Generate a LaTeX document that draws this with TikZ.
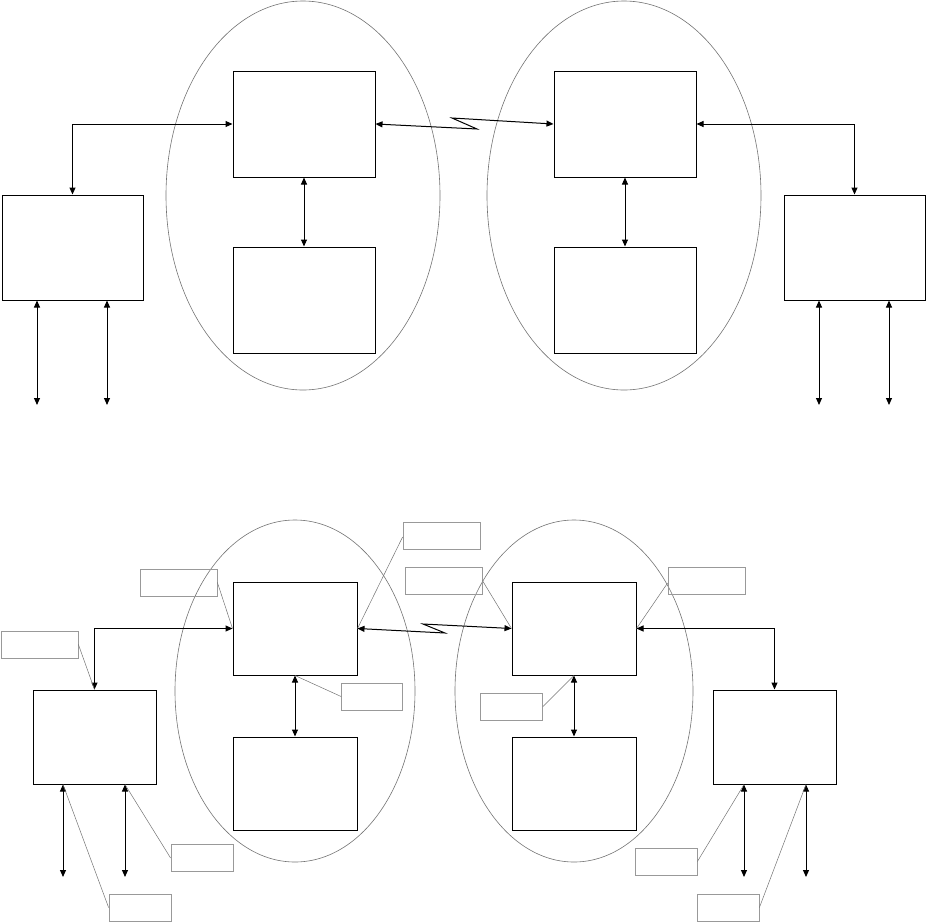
\documentclass[tikz,border=0pt]{standalone}
\usetikzlibrary{arrows.meta,shapes.geometric}
\begin{document}
\begin{tikzpicture}[x=1pt,y=-1pt,
  blk/.style={draw=black,line width=1pt,rectangle,inner sep=0pt,fill=none},
  oval/.style={draw=black!55,line width=0.6pt,ellipse,inner sep=0pt},
  callout/.style={draw=black!40,line width=0.8pt,rectangle,inner sep=0pt,minimum height=27pt},
  leader/.style={draw=black!55,line width=0.5pt},
  dbl/.style={line width=1pt,{Triangle[length=7pt,width=6pt]}-{Triangle[length=7pt,width=6pt]}},
  sgl/.style={line width=1pt,-{Triangle[length=7pt,width=6pt]}}]
\useasboundingbox (0,0) rectangle (927,922);

% ===== Top diagram =====
\node[oval,minimum width=274pt,minimum height=389pt] (E1) at (303,195.5) {};
\node[oval,minimum width=274pt,minimum height=389pt] (E2) at (624,195.5) {};
\node[blk,minimum width=142pt,minimum height=106pt] (A) at (304,124) {};
\node[blk,minimum width=142pt,minimum height=106pt] (B) at (304,300) {};
\node[blk,minimum width=142pt,minimum height=106pt] (C) at (625,124) {};
\node[blk,minimum width=142pt,minimum height=106pt] (D) at (625,300) {};
\node[blk,minimum width=141pt,minimum height=105pt] (L) at (72.5,247.5) {};
\node[blk,minimum width=141pt,minimum height=105pt] (R) at (854.5,247.5) {};

\coordinate (z1) at (477,129);
\coordinate (z2) at (452,118);
\coordinate (la) at (37,405);
\coordinate (lb) at (107,405);
\coordinate (ra) at (819,405);
\coordinate (rb) at (889,405);

\draw[dbl] (L.north) |- (A.west);
\draw[dbl] (A.south) -- (B.north);
\draw[dbl] (C.south) -- (D.north);
\draw[dbl] (A.east) -- (z1) -- (z2) -- (C.west);
\draw[dbl] (C.east) -| (R.north);
\draw[dbl] (la |- L.south) -- (la);
\draw[dbl] (lb |- L.south) -- (lb);
\draw[dbl] (ra |- R.south) -- (ra);
\draw[dbl] (rb |- R.south) -- (rb);

% ===== Bottom diagram =====
\node[oval,minimum width=240pt,minimum height=342pt] (F1) at (295,691) {};
\node[oval,minimum width=238pt,minimum height=342pt] (F2) at (574,691) {};
\node[blk,minimum width=124pt,minimum height=93pt] (A2) at (295,628.5) {};
\node[blk,minimum width=124pt,minimum height=93pt] (B2) at (295,783.5) {};
\node[blk,minimum width=124pt,minimum height=93pt] (C2) at (574,628.5) {};
\node[blk,minimum width=124pt,minimum height=93pt] (D2) at (574,783.5) {};
\node[blk,minimum width=123pt,minimum height=94pt] (L2) at (94.5,737) {};
\node[blk,minimum width=123pt,minimum height=94pt] (R2) at (774.5,737) {};

\coordinate (w1) at (445,633);
\coordinate (w2) at (423,624);
\coordinate (l2a) at (63,877);
\coordinate (l2b) at (125,877);
\coordinate (r2a) at (744,877);
\coordinate (r2b) at (806,877);

\draw[dbl] (L2.north) |- (A2.west);
\draw[dbl] (A2.south) -- (B2.north);
\draw[dbl] (C2.south) -- (D2.north);
\draw[dbl] (A2.east) -- (w1) -- (w2) -- (C2.west);
\draw[dbl] (C2.east) -| (R2.north);
\draw[dbl] (l2a |- L2.south) -- (l2a);
\draw[dbl] (l2b |- L2.south) -- (l2b);
\draw[dbl] (r2a |- R2.south) -- (r2a);
\draw[dbl] (r2b |- R2.south) -- (r2b);

% callouts
\node[callout,minimum width=77pt] (c1) at (441.5,535.5) {};
\node[callout,minimum width=77pt] (c2) at (178.5,582.5) {};
\node[callout,minimum width=77pt] (c3) at (443.5,580.5) {};
\node[callout,minimum width=77pt] (c4) at (706.5,580.5) {};
\node[callout,minimum width=61pt] (c5) at (372,696.5) {};
\node[callout,minimum width=62pt] (c6) at (511.5,706.5) {};
\node[callout,minimum width=77pt] (c7) at (39.5,644.5) {};
\node[callout,minimum width=62pt] (c8) at (202,858) {};
\node[callout,minimum width=62pt] (c9) at (140,907.5) {};
\node[callout,minimum width=62pt] (c10) at (666,861.5) {};
\node[callout,minimum width=62pt] (c11) at (728,907.5) {};

\draw[leader] (c1.west) ++(0,1.5) -- (A2.east);
\draw[leader] (c2.east) -- (A2.west);
\draw[leader] (c3.east) -- (C2.west);
\draw[leader] (c4.west) ++(0,2.5) -- (C2.east);
\draw[leader] (c5.west) -- (A2.south);
\draw[leader] (c6.east) -- (C2.south);
\draw[leader] (c7.east) -- (L2.north);
\draw[leader] (c8.west) -- (l2b |- L2.south);
\draw[leader] (c9.west) -- (l2a |- L2.south);
\draw[leader] (c10.east) -- (r2a |- R2.south);
\draw[leader] (c11.east) -- (r2b |- R2.south);
\end{tikzpicture}
\end{document}
